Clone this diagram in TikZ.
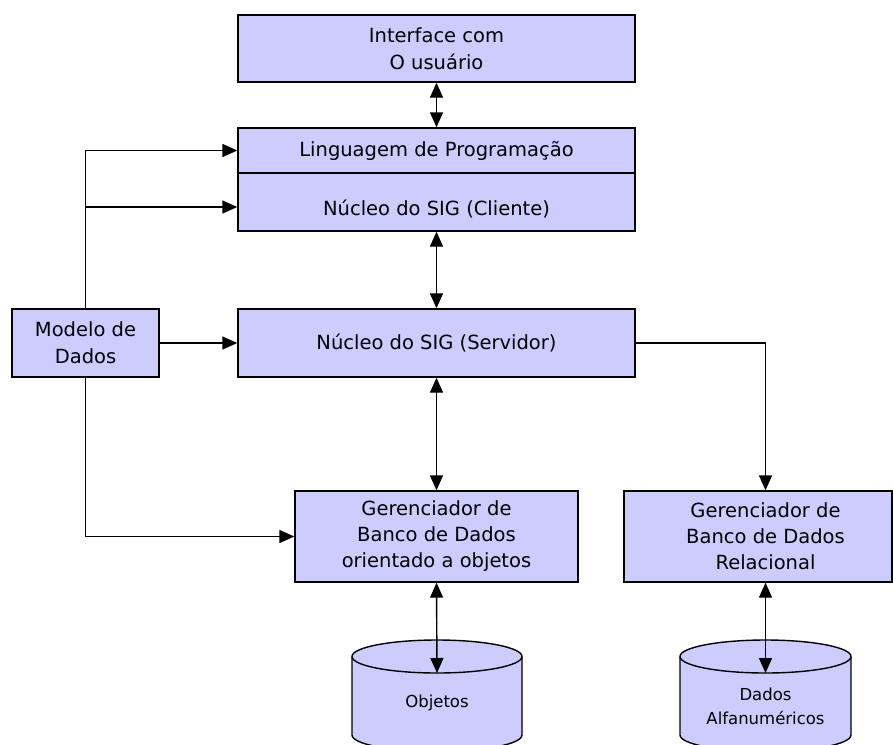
\documentclass[tikz,border=0pt]{standalone}
\usepackage{fontspec}
\setmainfont{DejaVu Sans}
\usetikzlibrary{arrows.meta}
\definecolor{boxfill}{HTML}{CCCCFF}
\begin{document}
\begin{tikzpicture}[x=1pt,y=-1pt,
  box/.style={draw=black, fill=boxfill, line width=1.4pt, inner sep=0pt,
    align=center, font=\fontsize{19.5}{27}\selectfont},
  link/.style={line width=1.4pt, -{Triangle[length=15pt,width=13pt]}},
  both/.style={line width=1.4pt, {Triangle[length=15pt,width=13pt]}-{Triangle[length=15pt,width=13pt]}},
  db/.style={draw=black, fill=boxfill, line width=1.4pt},
  dbtext/.style={align=center, inner sep=0pt, font=\fontsize{16.5}{24}\selectfont}]
\useasboundingbox (0,0) rectangle (893,744);
\fill[white] (0,0) rectangle (893,744);

% client side
\node[box, minimum width=397pt, minimum height=67pt] (ui) at (436.5,48.5) {Interface com\\O usuário};
\node[box, minimum width=397pt, minimum height=45pt] (lang) at (436.5,150.5) {Linguagem de Programação};
\node[box, minimum width=397pt, minimum height=58pt, text height=31pt, text depth=5pt] (cli) at (436.5,202) {Núcleo do SIG (Cliente)};

% server side
\node[box, minimum width=397pt, minimum height=68pt] (srv) at (436.5,343) {Núcleo do SIG (Servidor)};
\node[box, minimum width=147pt, minimum height=68pt] (mdl) at (85.5,343) {Modelo de\\Dados};

% database managers
\node[box, minimum width=283pt, minimum height=91pt, font=\fontsize{19.5}{26}\selectfont] (oo) at (436.5,536.5) {Gerenciador de\\Banco de Dados\\orientado a objetos};
\node[box, minimum width=268pt, minimum height=91pt] (rel) at (758,536.5) {};
\node[align=center, inner sep=0pt, font=\fontsize{19.5}{26}\selectfont] (reltxt) at (765.5,536.5) {Gerenciador de\\Banco de Dados\\Relacional};

% storage cylinders
\draw[db] (352,656.5) -- (352,735) arc[start angle=180,end angle=360,x radius=85pt,y radius=16.5pt]
  -- (522,656.5) arc[start angle=0,end angle=180,x radius=85pt,y radius=16.5pt] -- cycle;
\draw[line width=1.4pt] (352,656.5) arc[start angle=180,end angle=360,x radius=85pt,y radius=16.5pt];
\draw[db] (680,656.5) -- (680,735) arc[start angle=180,end angle=360,x radius=85.5pt,y radius=16.5pt]
  -- (851,656.5) arc[start angle=0,end angle=180,x radius=85.5pt,y radius=16.5pt] -- cycle;
\draw[line width=1.4pt] (680,656.5) arc[start angle=180,end angle=360,x radius=85.5pt,y radius=16.5pt];
\coordinate (objtop) at (437,673);
\coordinate (alftop) at (765.5,673);
\node[dbtext] (obj) at (437,703) {Objetos};
\node[dbtext] (alf) at (765.5,706) {Dados\\Alfanuméricos};

% connectors
\draw[both] (ui.south) -- (lang.north);
\draw[both] (cli.south) -- (srv.north);
\draw[both] (srv.south) -- (oo.north);
\draw[both] (oo.south) -- (objtop);
\draw[both] (reltxt |- rel.south) -- (alftop);
\draw[link] (srv.east) -| (reltxt |- rel.north);
\draw[link] (mdl.east) -- (srv.west);
\draw[link] (mdl.north) |- (lang.west);
\draw[link] (mdl.north) |- ([yshift=-5pt]cli.west);
\draw[link] (mdl.south) |- (oo.west);
\end{tikzpicture}
\end{document}
